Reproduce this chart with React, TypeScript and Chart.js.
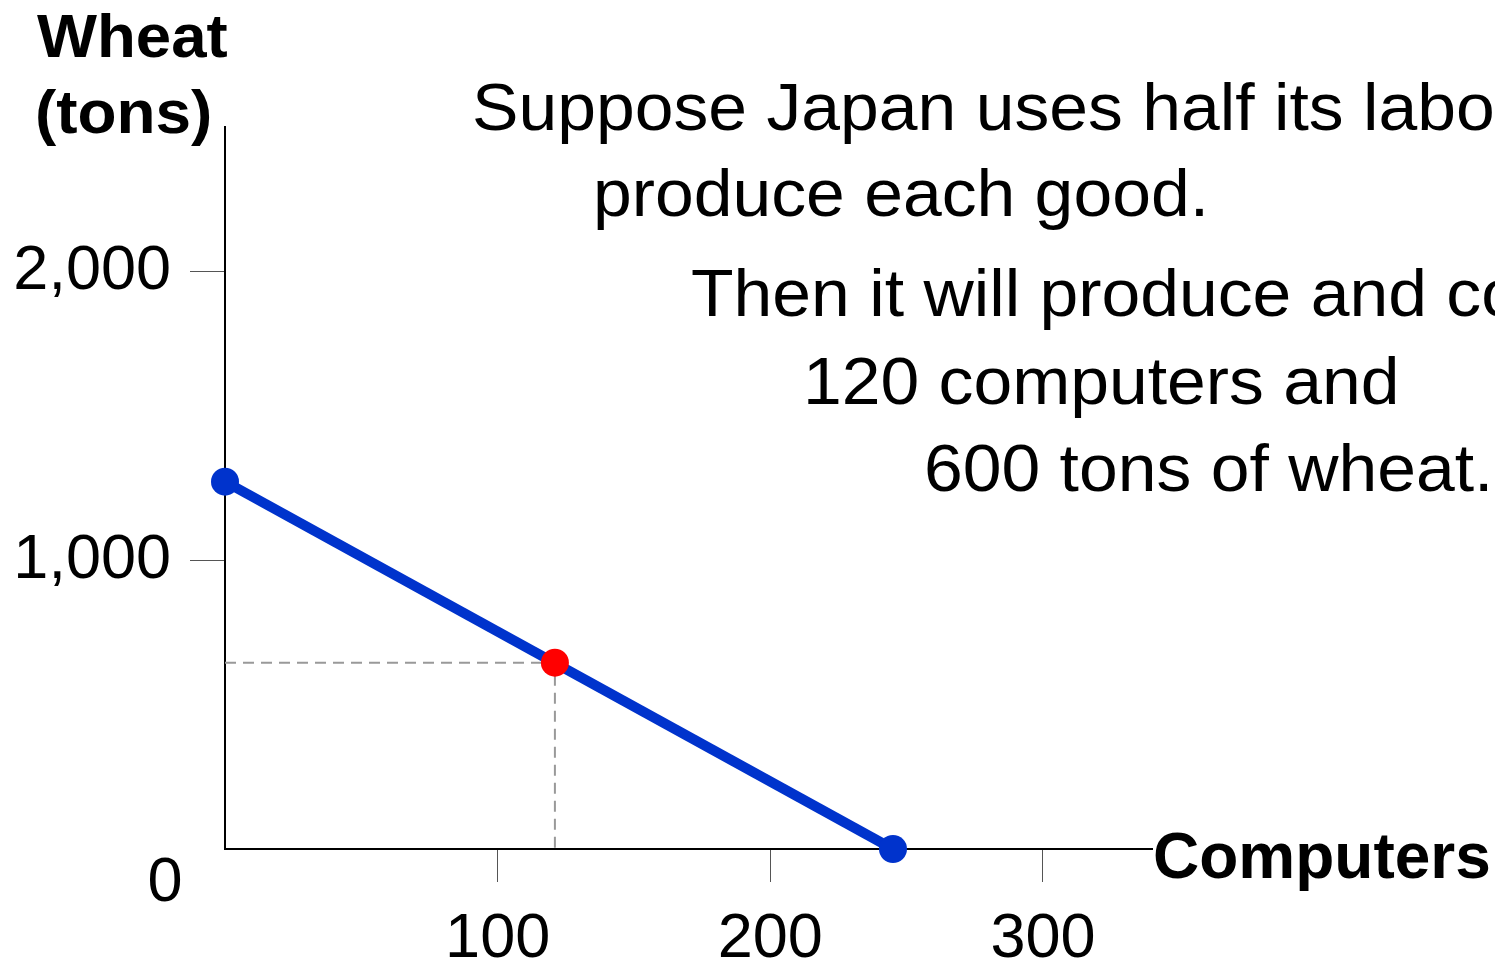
import React, { useEffect, useRef } from "react";
import { Chart, registerables } from "chart.js";

Chart.register(...registerables);

// ---- data ----
const xTickValues = [100, 200, 300];
const yTickValues = [1000, 2000];
const ppfComputers = [0, 245];
const ppfWheat = [1272, 0];
const chosenComputers = [121];
const chosenWheat = [645];

// ---- text ----
const yAxisTitle = ["Wheat", "(tons)"];
const xAxisTitle = "Computers";
const originLabel = "0";
const annotationLines = [
  "Suppose Japan uses half its labo",
  "produce each good.",
  "Then it will produce and co",
  "120 computers and",
  "600 tons of wheat.",
];
const annotationX = [472, 593, 691, 803, 924];
const annotationY = [130, 216, 316, 404, 491];

const FONT = '"Liberation Sans", Arial, sans-serif';

function drawScaled(ctx: any, text: string, x: number, y: number, sx: number) {
  ctx.save();
  ctx.translate(x, y);
  ctx.scale(sx, 1);
  ctx.fillText(text, 0, 0);
  ctx.restore();
}

const textPlugin = {
  id: "textPlugin",
  afterDraw(chart: any) {
    const ctx = chart.ctx;
    ctx.save();
    ctx.fillStyle = "#000";
    ctx.textBaseline = "alphabetic";
    ctx.textAlign = "left";
    ctx.font = `bold 62px ${FONT}`;
    drawScaled(ctx, yAxisTitle[0], 37, 57, 1.025);
    drawScaled(ctx, yAxisTitle[1], 35, 133, 1.03);
    ctx.font = `bold 64px ${FONT}`;
    ctx.fillText(xAxisTitle, 1153, 878);
    ctx.font = `63px ${FONT}`;
    ctx.textAlign = "center";
    ctx.fillText(originLabel, 165, 901);
    ctx.textAlign = "left";
    ctx.font = `67px ${FONT}`;
    annotationLines.forEach((line, i) => {
      drawScaled(ctx, line, annotationX[i], annotationY[i], 1.04);
    });
    ctx.restore();
  },
};

export default function App() {
  const canvasRef = useRef<HTMLCanvasElement | null>(null);

  useEffect(() => {
    if (!canvasRef.current) return;
    const chart = new Chart(canvasRef.current, {
      type: "scatter",
      data: {
        datasets: [
          {
            type: "line",
            label: "guide",
            data: [
              { x: 0, y: chosenWheat[0] },
              { x: chosenComputers[0], y: chosenWheat[0] },
              { x: chosenComputers[0], y: 0 },
            ],
            borderColor: "#999999",
            borderWidth: 2,
            borderDash: [11, 7],
            pointRadius: 0,
            fill: false,
            clip: false,
            order: 3,
          },
          {
            type: "line",
            label: "PPF",
            data: ppfComputers.map((x, i) => ({ x, y: ppfWheat[i] })),
            borderColor: "#0033CC",
            borderWidth: 10,
            pointRadius: 14,
            pointBackgroundColor: "#0033CC",
            pointBorderWidth: 0,
            fill: false,
            clip: false,
            order: 2,
          },
          {
            label: "chosen",
            data: chosenComputers.map((x, i) => ({ x, y: chosenWheat[i] })),
            pointRadius: 14,
            backgroundColor: "#FF0000",
            pointBorderWidth: 0,
            clip: false,
            order: 1,
          },
        ],
      } as any,
      options: {
        animation: false,
        responsive: false,
        maintainAspectRatio: false,
        layout: { padding: { top: 127, right: 343, left: 0, bottom: 0 } },
        plugins: { legend: { display: false }, tooltip: { enabled: false } },
        scales: {
          x: {
            type: "linear",
            min: 0,
            max: 340,
            afterBuildTicks: (s: any) => {
              s.ticks = xTickValues.map((v) => ({ value: v }));
            },
            afterFit: (s: any) => {
              s.height = 114;
            },
            grid: {
              drawOnChartArea: false,
              drawTicks: true,
              tickLength: 33,
              tickColor: "#555",
              tickWidth: 1,
            },
            border: { display: true, color: "#000", width: 2 },
            ticks: {
              font: { family: FONT, size: 63 },
              color: "#000",
              padding: 20,
              maxRotation: 0,
              autoSkip: false,
              callback: (v: any) => String(v),
            },
          },
          y: {
            type: "linear",
            min: 0,
            max: 2500,
            afterBuildTicks: (s: any) => {
              s.ticks = yTickValues.map((v) => ({ value: v }));
            },
            afterFit: (s: any) => {
              s.width = 225;
            },
            grid: {
              drawOnChartArea: false,
              drawTicks: true,
              tickLength: 35,
              tickColor: "#555",
              tickWidth: 1,
            },
            border: { display: true, color: "#000", width: 2 },
            ticks: {
              font: { family: FONT, size: 63 },
              color: "#000",
              padding: 19,
              autoSkip: false,
              callback: (v: any) => Number(v).toLocaleString("en-US"),
            },
          },
        },
      } as any,
      plugins: [textPlugin],
    });
    return () => chart.destroy();
  }, []);

  return (
    <div style={{ position: "fixed", left: 0, top: 0, width: 1495, height: 963, background: "#fff" }}>
      <canvas ref={canvasRef} width={1495} height={963} style={{ display: "block" }} />
    </div>
  );
}
